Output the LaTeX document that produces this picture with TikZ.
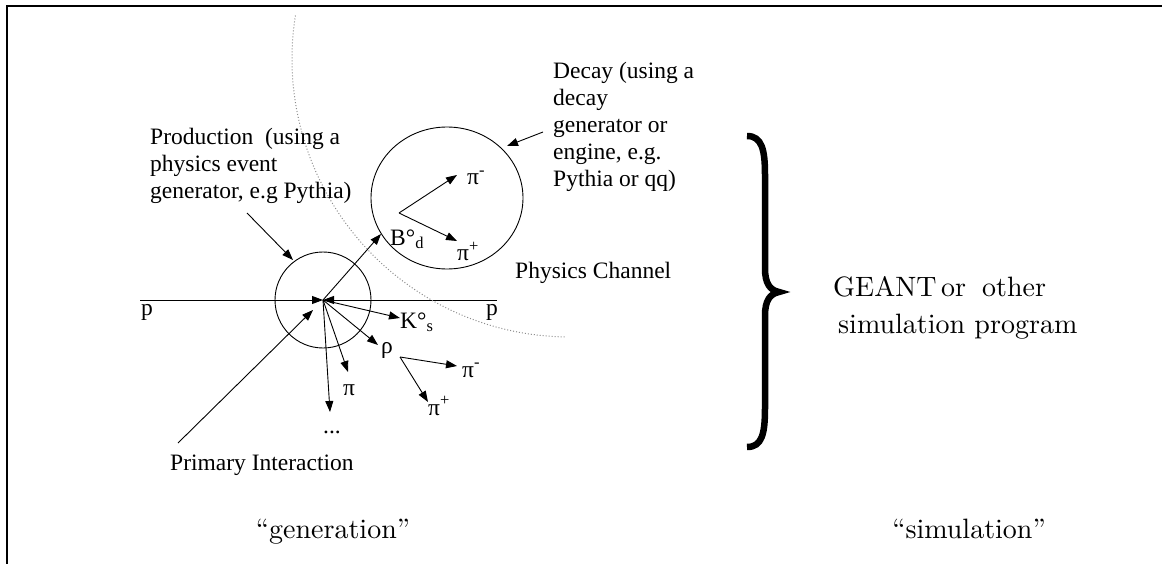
\documentclass[tikz,border=0pt]{standalone}
\usepackage{fontspec}
\setmainfont{Liberation Serif}
\newfontfamily\bookfont[Extension=.otf]{lmroman10-regular}
\usetikzlibrary{arrows.meta,positioning,calc}
\tikzset{
  track/.style={-{Triangle[length=11pt,width=8pt]},line width=0.9pt},
  ring/.style={draw,line width=0.9pt},
  horizon/.style={draw=gray!90,dotted,line width=1pt},
  curly/.style={line width=6.5pt,line cap=butt},
  frame/.style={line width=1.4pt},
  lbl/.style={font=\fontsize{23.5}{27}\selectfont,inner sep=0pt},
  note/.style={lbl,align=left,anchor=north west},
  book/.style={font=\bookfont\fontsize{28}{37}\selectfont,inner sep=0pt}
}
\newcommand{\up}[1]{\textsuperscript{#1}}
\newcommand{\dn}[1]{\textsubscript{#1}}

\begin{document}
\begin{tikzpicture}[x=1pt,y=-1pt]
\useasboundingbox (0,0) rectangle (1162,564);
\draw[frame] (1162,6) -- (7,6) -- (7,564);

% primary vertex and beam line
\coordinate (vtx) at (323,300);
\coordinate (pL) at (140,300);
\coordinate (pR) at (497,300);
\coordinate (beam) at (178,443);
\coordinate (beamtip) at (313,310);
\draw[track] (pL) -- (vtx);
\draw[track] (pR) -- (vtx);
\draw[track] (beam) -- (beamtip);
\node[lbl,anchor=base] (plab) at (147,315) {p};
\node[lbl,anchor=base] (prab) at (492,315) {p};

\coordinate (tB) at (381,234);
\coordinate (tK) at (400,318);
\coordinate (tRho) at (378,345);
\coordinate (tPi) at (348,372);
\coordinate (tDots) at (330,412);
\foreach \t in {tB,tK,tRho,tPi,tDots}{\draw[track] (vtx) -- (\t);}

\node[lbl,anchor=base west] (kaon) at (400,328) {K°\dn{s}};
\node[lbl,anchor=base] (rho) at (387,353) {ρ};
\node[lbl,anchor=base] (pion) at (349,395) {π};
\node[lbl,anchor=base] (dots) at (332,433) {...};

% rho decay
\coordinate (rvtx) at (400,357);
\coordinate (rm) at (457,366);
\coordinate (rp) at (428,402);
\draw[track] (rvtx) -- (rm);
\draw[track] (rvtx) -- (rp);
\node[lbl,anchor=base west] (rpim) at (462,377) {π\up{-}};
\node[lbl,anchor=base west] (rpip) at (428,415) {π\up{+}};

% production and decay regions
\draw[ring] (vtx) circle (48);
\coordinate (dctr) at (447,198);
\draw[ring] (dctr) ellipse (76 and 71);
\coordinate (hctr) at (570,59);
\draw[horizon] ([shift={(189:278)}]hctr) arc[start angle=189,end angle=91,radius=278];

\coordinate (dvtx) at (399,213);
\coordinate (dm) at (457,175);
\coordinate (dp) at (457,241);
\draw[track] (dvtx) -- (dm);
\draw[track] (dvtx) -- (dp);
\node[lbl,anchor=base west] (bmes) at (390,245) {B°\dn{d}};
\node[lbl,anchor=base west] (dpim) at (467,185) {π\up{-}};
\node[lbl,anchor=base west] (dpip) at (457,261) {π\up{+}};

\node[note] (prod) at (150,128) {Production~ (using a\\physics event\\generator, e.g Pythia)};
\coordinate (prodtail) at (247,213);
\coordinate (prodtip) at (293,260);
\draw[track] (prodtail) -- (prodtip);

\node[note] (decay) at (553,62) {Decay (using a\\decay\\generator or\\engine, e.g.\\Pythia or qq)};
\coordinate (decaytail) at (543,132);
\coordinate (decaytip) at (507,146);
\draw[track] (decaytail) -- (decaytip);

\node[lbl,anchor=base west] (chan) at (515,278) {Physics Channel};
\node[lbl,anchor=base west] (prim) at (170,470) {Primary Interaction};

% simulation side
\draw[curly] (747,136) .. controls (762,136) and (765,150) .. (765,175)
  -- (765,268) .. controls (765,284) and (770,290) .. (779,292)
  .. controls (770,294) and (765,300) .. (765,316)
  -- (765,408) .. controls (765,434) and (762,447) .. (747,447);
\node[book,align=left,anchor=north west] (geant) at (833,276) {GEANT\,or\hspace{16pt}other\\\hspace{5pt}simulation program};

\node[book,anchor=base] (gen) at (333,538) {“generation”};
\node[book,anchor=base] (sim) at (969,538) {“simulation”};
\end{tikzpicture}
\end{document}
